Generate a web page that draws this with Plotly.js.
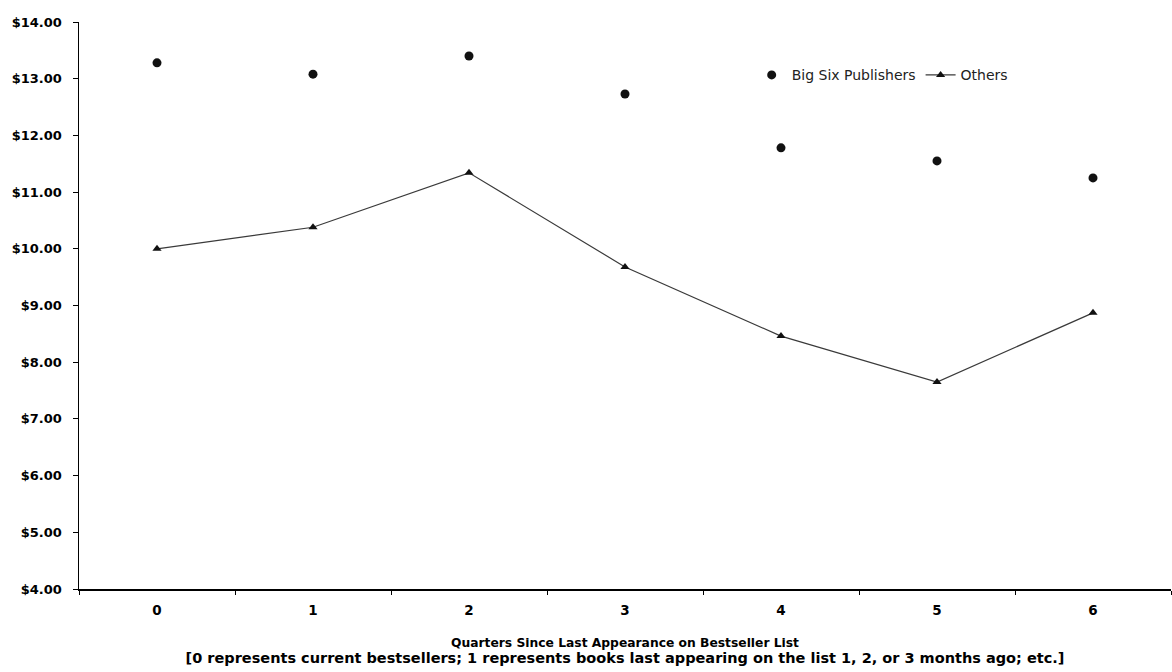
<!DOCTYPE html>
<html>
<head>
<meta charset="utf-8">
<script src="https://cdn.plot.ly/plotly-3.0.1.min.js"></script>
<style>html,body{margin:0;padding:0;background:#fff;}#chart{width:1172px;height:672px;}</style>
</head>
<body>
<div id="chart"></div>
<script>
const quarters = ["0", "1", "2", "3", "4", "5", "6"];
const bigSix = [13.28, 13.08, 13.40, 12.73, 11.78, 11.55, 11.25];
const others = [10.00, 10.38, 11.34, 9.68, 8.46, 7.65, 8.87];
const yTicks = [4, 5, 6, 7, 8, 9, 10, 11, 12, 13, 14];
const xTitle = "Quarters Since Last Appearance on Bestseller List";
const xSubtitle = "[0 represents current bestsellers; 1 represents books last appearing on the list 1, 2, or 3 months ago; etc.]";

const traces = [
  {
    x: quarters, y: bigSix, name: "Big Six Publishers", type: "scatter", mode: "markers",
    marker: {symbol: "circle", size: 9, color: "#111"}
  },
  {
    x: quarters, y: others, name: "Others", type: "scatter", mode: "lines+markers",
    line: {color: "#3a3a3a", width: 1.2},
    marker: {symbol: "triangle-up", size: 8, color: "#111"}
  }
];

const layout = {
  width: 1172, height: 672,
  margin: {l: 79, r: 1, t: 22, b: 83},
  paper_bgcolor: "#fff", plot_bgcolor: "#fff",
  font: {family: "Liberation Sans, Arial, sans-serif", color: "#000"},
  showlegend: true,
  legend: {
    orientation: "h", x: 0.616, y: 0.906, xanchor: "left", yanchor: "middle",
    font: {family: "DejaVu Sans", size: 14, color: "#222"}, bgcolor: "rgba(0,0,0,0)"
  },
  xaxis: {
    type: "category", range: [-0.5, 6.5],
    showline: true, linecolor: "#000", linewidth: 1.5,
    ticks: "outside", tickson: "boundaries", ticklen: 4, tickcolor: "#000",
    ticklabelstandoff: 8,
    showgrid: false, zeroline: false,
    tickfont: {family: "DejaVu Sans", size: 13.5, weight: "bold"},
    title: {
      text: xTitle + "<br><span style=\"font-size:14.5px\">" + xSubtitle + "</span>",
      font: {family: "DejaVu Sans", size: 12.3, weight: "bold"}, standoff: 21
    }
  },
  yaxis: {
    range: [4, 14], tickvals: yTicks, tickformat: "$.2f",
    showline: true, linecolor: "#000", linewidth: 1.5,
    ticks: "outside", ticklen: 5, tickcolor: "#000",
    ticklabelstandoff: 8,
    showgrid: false, zeroline: false,
    tickfont: {family: "DejaVu Sans", size: 13, weight: "bold"}
  }
};

Plotly.newPlot("chart", traces, layout, {displayModeBar: false, staticPlot: true});
</script>
</body>
</html>
